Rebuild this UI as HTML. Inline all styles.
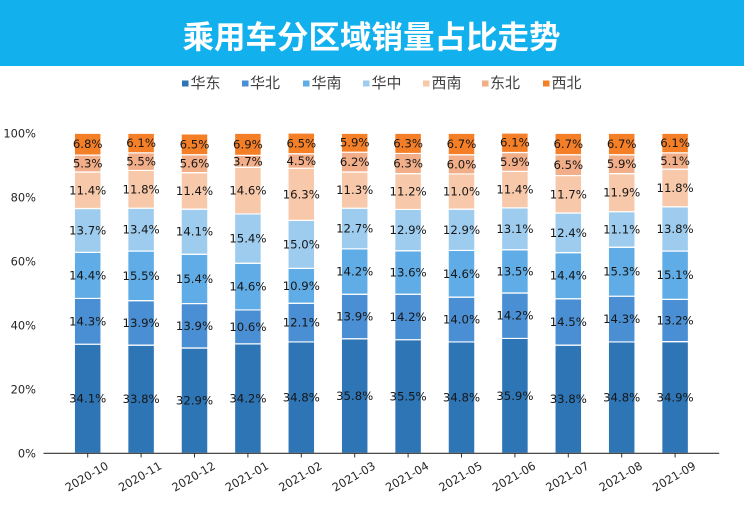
<!DOCTYPE html>
<html>
<head>
<meta charset="utf-8">
<style>
html,body{margin:0;padding:0;background:#fff;}
#wrap{position:relative;width:744px;height:528px;overflow:hidden;background:#fff;}
svg{display:block;}
.lbl{font-family:"DejaVu Sans","Liberation Sans",sans-serif;font-size:11.7px;fill:#161616;text-anchor:middle;dominant-baseline:central;}
.yt{font-family:"DejaVu Sans","Liberation Sans",sans-serif;font-size:11.4px;fill:#262626;text-anchor:end;dominant-baseline:central;}
.xt{font-family:"DejaVu Sans","Liberation Sans",sans-serif;font-size:11.4px;fill:#262626;text-anchor:middle;dominant-baseline:central;}
.lg{font-family:"Liberation Sans","Noto Sans CJK SC",sans-serif;font-size:15px;fill:#404040;dominant-baseline:central;}
.title{font-family:"Liberation Sans","Noto Sans CJK SC",sans-serif;font-size:31.5px;font-weight:bold;fill:#fff;text-anchor:middle;dominant-baseline:central;}
</style>
</head>
<body>
<div id="wrap">
<svg width="744" height="528" viewBox="0 0 744 528" xmlns="http://www.w3.org/2000/svg">
<rect x="0" y="0" width="744" height="66" fill="#12B0EC"/>
<text class="title" x="371.5" y="37">乘用车分区域销量占比走势</text>

<!-- legend -->
<rect x="182" y="80.5" width="6.5" height="6" fill="#2E75B6"/><text class="lg" x="190.5" y="83.5">华东</text>
<rect x="242" y="80.5" width="6.5" height="6" fill="#4A8FD3"/><text class="lg" x="250" y="83.5">华北</text>
<rect x="303" y="80.5" width="6.5" height="6" fill="#5FACE6"/><text class="lg" x="311.5" y="83.5">华南</text>
<rect x="363" y="80.5" width="6.5" height="6" fill="#9DCCEE"/><text class="lg" x="371.5" y="83.5">华中</text>
<rect x="423" y="80.5" width="6.5" height="6" fill="#F8C8AA"/><text class="lg" x="431.5" y="83.5">西南</text>
<rect x="482" y="80.5" width="6.5" height="6" fill="#F1AE88"/><text class="lg" x="490" y="83.5">东北</text>
<rect x="543" y="80.5" width="6.5" height="6" fill="#F47F26"/><text class="lg" x="551.5" y="83.5">西北</text>

<!-- y tick labels -->
<text class="yt" x="36" y="453.3">0%</text>
<text class="yt" x="36" y="389.3">20%</text>
<text class="yt" x="36" y="325.3">40%</text>
<text class="yt" x="36" y="261.3">60%</text>
<text class="yt" x="36" y="197.3">80%</text>
<text class="yt" x="36" y="133.3">100%</text>

<!-- bars -->
<g transform="translate(0 453.3) scale(1 -3.2)" stroke="#fff" stroke-width="1.2" vector-effect="non-scaling-stroke">
<g fill="#2E75B6">
<rect vector-effect="non-scaling-stroke" x="74.35" y="0" width="26.7" height="34.1"/>
<rect vector-effect="non-scaling-stroke" x="127.75" y="0" width="26.7" height="33.8"/>
<rect vector-effect="non-scaling-stroke" x="181.15" y="0" width="26.7" height="32.9"/>
<rect vector-effect="non-scaling-stroke" x="234.55" y="0" width="26.7" height="34.2"/>
<rect vector-effect="non-scaling-stroke" x="287.95" y="0" width="26.7" height="34.8"/>
<rect vector-effect="non-scaling-stroke" x="341.35" y="0" width="26.7" height="35.8"/>
<rect vector-effect="non-scaling-stroke" x="394.75" y="0" width="26.7" height="35.5"/>
<rect vector-effect="non-scaling-stroke" x="448.15" y="0" width="26.7" height="34.8"/>
<rect vector-effect="non-scaling-stroke" x="501.55" y="0" width="26.7" height="35.9"/>
<rect vector-effect="non-scaling-stroke" x="554.95" y="0" width="26.7" height="33.8"/>
<rect vector-effect="non-scaling-stroke" x="608.35" y="0" width="26.7" height="34.8"/>
<rect vector-effect="non-scaling-stroke" x="661.75" y="0" width="26.7" height="34.9"/>
</g>
<g fill="#4A8FD3">
<rect vector-effect="non-scaling-stroke" x="74.35" y="34.1" width="26.7" height="14.3"/>
<rect vector-effect="non-scaling-stroke" x="127.75" y="33.8" width="26.7" height="13.9"/>
<rect vector-effect="non-scaling-stroke" x="181.15" y="32.9" width="26.7" height="13.9"/>
<rect vector-effect="non-scaling-stroke" x="234.55" y="34.2" width="26.7" height="10.6"/>
<rect vector-effect="non-scaling-stroke" x="287.95" y="34.8" width="26.7" height="12.1"/>
<rect vector-effect="non-scaling-stroke" x="341.35" y="35.8" width="26.7" height="13.9"/>
<rect vector-effect="non-scaling-stroke" x="394.75" y="35.5" width="26.7" height="14.2"/>
<rect vector-effect="non-scaling-stroke" x="448.15" y="34.8" width="26.7" height="14.0"/>
<rect vector-effect="non-scaling-stroke" x="501.55" y="35.9" width="26.7" height="14.2"/>
<rect vector-effect="non-scaling-stroke" x="554.95" y="33.8" width="26.7" height="14.5"/>
<rect vector-effect="non-scaling-stroke" x="608.35" y="34.8" width="26.7" height="14.3"/>
<rect vector-effect="non-scaling-stroke" x="661.75" y="34.9" width="26.7" height="13.2"/>
</g>
<g fill="#5FACE6">
<rect vector-effect="non-scaling-stroke" x="74.35" y="48.4" width="26.7" height="14.4"/>
<rect vector-effect="non-scaling-stroke" x="127.75" y="47.7" width="26.7" height="15.5"/>
<rect vector-effect="non-scaling-stroke" x="181.15" y="46.8" width="26.7" height="15.4"/>
<rect vector-effect="non-scaling-stroke" x="234.55" y="44.8" width="26.7" height="14.6"/>
<rect vector-effect="non-scaling-stroke" x="287.95" y="46.9" width="26.7" height="10.9"/>
<rect vector-effect="non-scaling-stroke" x="341.35" y="49.7" width="26.7" height="14.2"/>
<rect vector-effect="non-scaling-stroke" x="394.75" y="49.7" width="26.7" height="13.6"/>
<rect vector-effect="non-scaling-stroke" x="448.15" y="48.8" width="26.7" height="14.6"/>
<rect vector-effect="non-scaling-stroke" x="501.55" y="50.1" width="26.7" height="13.5"/>
<rect vector-effect="non-scaling-stroke" x="554.95" y="48.3" width="26.7" height="14.4"/>
<rect vector-effect="non-scaling-stroke" x="608.35" y="49.1" width="26.7" height="15.3"/>
<rect vector-effect="non-scaling-stroke" x="661.75" y="48.1" width="26.7" height="15.1"/>
</g>
<g fill="#9DCCEE">
<rect vector-effect="non-scaling-stroke" x="74.35" y="62.8" width="26.7" height="13.7"/>
<rect vector-effect="non-scaling-stroke" x="127.75" y="63.2" width="26.7" height="13.4"/>
<rect vector-effect="non-scaling-stroke" x="181.15" y="62.2" width="26.7" height="14.1"/>
<rect vector-effect="non-scaling-stroke" x="234.55" y="59.4" width="26.7" height="15.4"/>
<rect vector-effect="non-scaling-stroke" x="287.95" y="57.8" width="26.7" height="15.0"/>
<rect vector-effect="non-scaling-stroke" x="341.35" y="63.9" width="26.7" height="12.7"/>
<rect vector-effect="non-scaling-stroke" x="394.75" y="63.3" width="26.7" height="12.9"/>
<rect vector-effect="non-scaling-stroke" x="448.15" y="63.4" width="26.7" height="12.9"/>
<rect vector-effect="non-scaling-stroke" x="501.55" y="63.6" width="26.7" height="13.1"/>
<rect vector-effect="non-scaling-stroke" x="554.95" y="62.7" width="26.7" height="12.4"/>
<rect vector-effect="non-scaling-stroke" x="608.35" y="64.4" width="26.7" height="11.1"/>
<rect vector-effect="non-scaling-stroke" x="661.75" y="63.2" width="26.7" height="13.8"/>
</g>
<g fill="#F8C8AA">
<rect vector-effect="non-scaling-stroke" x="74.35" y="76.5" width="26.7" height="11.4"/>
<rect vector-effect="non-scaling-stroke" x="127.75" y="76.6" width="26.7" height="11.8"/>
<rect vector-effect="non-scaling-stroke" x="181.15" y="76.3" width="26.7" height="11.4"/>
<rect vector-effect="non-scaling-stroke" x="234.55" y="74.8" width="26.7" height="14.6"/>
<rect vector-effect="non-scaling-stroke" x="287.95" y="72.8" width="26.7" height="16.3"/>
<rect vector-effect="non-scaling-stroke" x="341.35" y="76.6" width="26.7" height="11.3"/>
<rect vector-effect="non-scaling-stroke" x="394.75" y="76.2" width="26.7" height="11.2"/>
<rect vector-effect="non-scaling-stroke" x="448.15" y="76.3" width="26.7" height="11.0"/>
<rect vector-effect="non-scaling-stroke" x="501.55" y="76.7" width="26.7" height="11.4"/>
<rect vector-effect="non-scaling-stroke" x="554.95" y="75.1" width="26.7" height="11.7"/>
<rect vector-effect="non-scaling-stroke" x="608.35" y="75.5" width="26.7" height="11.9"/>
<rect vector-effect="non-scaling-stroke" x="661.75" y="77.0" width="26.7" height="11.8"/>
</g>
<g fill="#F1AE88">
<rect vector-effect="non-scaling-stroke" x="74.35" y="87.9" width="26.7" height="5.3"/>
<rect vector-effect="non-scaling-stroke" x="127.75" y="88.4" width="26.7" height="5.5"/>
<rect vector-effect="non-scaling-stroke" x="181.15" y="87.7" width="26.7" height="5.6"/>
<rect vector-effect="non-scaling-stroke" x="234.55" y="89.4" width="26.7" height="3.7"/>
<rect vector-effect="non-scaling-stroke" x="287.95" y="89.1" width="26.7" height="4.5"/>
<rect vector-effect="non-scaling-stroke" x="341.35" y="87.9" width="26.7" height="6.2"/>
<rect vector-effect="non-scaling-stroke" x="394.75" y="87.4" width="26.7" height="6.3"/>
<rect vector-effect="non-scaling-stroke" x="448.15" y="87.3" width="26.7" height="6.0"/>
<rect vector-effect="non-scaling-stroke" x="501.55" y="88.1" width="26.7" height="5.9"/>
<rect vector-effect="non-scaling-stroke" x="554.95" y="86.8" width="26.7" height="6.5"/>
<rect vector-effect="non-scaling-stroke" x="608.35" y="87.4" width="26.7" height="5.9"/>
<rect vector-effect="non-scaling-stroke" x="661.75" y="88.8" width="26.7" height="5.1"/>
</g>
<g fill="#F47F26">
<rect vector-effect="non-scaling-stroke" x="74.35" y="93.2" width="26.7" height="6.8"/>
<rect vector-effect="non-scaling-stroke" x="127.75" y="93.9" width="26.7" height="6.1"/>
<rect vector-effect="non-scaling-stroke" x="181.15" y="93.3" width="26.7" height="6.5"/>
<rect vector-effect="non-scaling-stroke" x="234.55" y="93.1" width="26.7" height="6.9"/>
<rect vector-effect="non-scaling-stroke" x="287.95" y="93.6" width="26.7" height="6.5"/>
<rect vector-effect="non-scaling-stroke" x="341.35" y="94.1" width="26.7" height="5.9"/>
<rect vector-effect="non-scaling-stroke" x="394.75" y="93.7" width="26.7" height="6.3"/>
<rect vector-effect="non-scaling-stroke" x="448.15" y="93.3" width="26.7" height="6.7"/>
<rect vector-effect="non-scaling-stroke" x="501.55" y="94.0" width="26.7" height="6.1"/>
<rect vector-effect="non-scaling-stroke" x="554.95" y="93.3" width="26.7" height="6.7"/>
<rect vector-effect="non-scaling-stroke" x="608.35" y="93.3" width="26.7" height="6.7"/>
<rect vector-effect="non-scaling-stroke" x="661.75" y="93.9" width="26.7" height="6.1"/>
</g>
</g>

<!-- axis -->
<line x1="43.5" y1="453.3" x2="719.2" y2="453.3" stroke="#333" stroke-width="1.1"/>
<g stroke="#333" stroke-width="1">
<line x1="87.7" y1="453.3" x2="87.7" y2="457.5"/>
<line x1="141.1" y1="453.3" x2="141.1" y2="457.5"/>
<line x1="194.5" y1="453.3" x2="194.5" y2="457.5"/>
<line x1="247.9" y1="453.3" x2="247.9" y2="457.5"/>
<line x1="301.3" y1="453.3" x2="301.3" y2="457.5"/>
<line x1="354.7" y1="453.3" x2="354.7" y2="457.5"/>
<line x1="408.1" y1="453.3" x2="408.1" y2="457.5"/>
<line x1="461.5" y1="453.3" x2="461.5" y2="457.5"/>
<line x1="514.9" y1="453.3" x2="514.9" y2="457.5"/>
<line x1="568.3" y1="453.3" x2="568.3" y2="457.5"/>
<line x1="621.7" y1="453.3" x2="621.7" y2="457.5"/>
<line x1="675.1" y1="453.3" x2="675.1" y2="457.5"/>
</g>

<!-- x tick labels -->
<text class="xt" x="86.7" y="476.5" transform="rotate(-30 86.7 476.5)">2020-10</text>
<text class="xt" x="140.1" y="476.5" transform="rotate(-30 140.1 476.5)">2020-11</text>
<text class="xt" x="193.5" y="476.5" transform="rotate(-30 193.5 476.5)">2020-12</text>
<text class="xt" x="246.9" y="476.5" transform="rotate(-30 246.9 476.5)">2021-01</text>
<text class="xt" x="300.3" y="476.5" transform="rotate(-30 300.3 476.5)">2021-02</text>
<text class="xt" x="353.7" y="476.5" transform="rotate(-30 353.7 476.5)">2021-03</text>
<text class="xt" x="407.1" y="476.5" transform="rotate(-30 407.1 476.5)">2021-04</text>
<text class="xt" x="460.5" y="476.5" transform="rotate(-30 460.5 476.5)">2021-05</text>
<text class="xt" x="513.9" y="476.5" transform="rotate(-30 513.9 476.5)">2021-06</text>
<text class="xt" x="567.3" y="476.5" transform="rotate(-30 567.3 476.5)">2021-07</text>
<text class="xt" x="620.7" y="476.5" transform="rotate(-30 620.7 476.5)">2021-08</text>
<text class="xt" x="674.1" y="476.5" transform="rotate(-30 674.1 476.5)">2021-09</text>

<!-- value labels -->
<g>
<text class="lbl" x="87.7" y="398.74">34.1%</text>
<text class="lbl" x="87.7" y="321.3">14.3%</text>
<text class="lbl" x="87.7" y="275.38">14.4%</text>
<text class="lbl" x="87.7" y="230.42">13.7%</text>
<text class="lbl" x="87.7" y="190.26">11.4%</text>
<text class="lbl" x="87.7" y="163.54">5.3%</text>
<text class="lbl" x="87.7" y="144.18">6.8%</text>

<text class="lbl" x="141.1" y="399.22">33.8%</text>
<text class="lbl" x="141.1" y="322.9">13.9%</text>
<text class="lbl" x="141.1" y="275.86">15.5%</text>
<text class="lbl" x="141.1" y="229.62">13.4%</text>
<text class="lbl" x="141.1" y="189.3">11.8%</text>
<text class="lbl" x="141.1" y="161.62">5.5%</text>
<text class="lbl" x="141.1" y="143.06">6.1%</text>

<text class="lbl" x="194.5" y="400.66">32.9%</text>
<text class="lbl" x="194.5" y="325.78">13.9%</text>
<text class="lbl" x="194.5" y="278.9">15.4%</text>
<text class="lbl" x="194.5" y="231.7">14.1%</text>
<text class="lbl" x="194.5" y="190.9">11.4%</text>
<text class="lbl" x="194.5" y="163.7">5.6%</text>
<text class="lbl" x="194.5" y="144.34">6.5%</text>

<text class="lbl" x="247.9" y="398.58">34.2%</text>
<text class="lbl" x="247.9" y="326.9">10.6%</text>
<text class="lbl" x="247.9" y="286.58">14.6%</text>
<text class="lbl" x="247.9" y="238.58">15.4%</text>
<text class="lbl" x="247.9" y="190.58">14.6%</text>
<text class="lbl" x="247.9" y="161.3">3.7%</text>
<text class="lbl" x="247.9" y="144.34">6.9%</text>

<text class="lbl" x="301.3" y="397.62">34.8%</text>
<text class="lbl" x="301.3" y="322.58">12.1%</text>
<text class="lbl" x="301.3" y="285.78">10.9%</text>
<text class="lbl" x="301.3" y="244.34">15.0%</text>
<text class="lbl" x="301.3" y="194.26">16.3%</text>
<text class="lbl" x="301.3" y="160.98">4.5%</text>
<text class="lbl" x="301.3" y="143.38">6.5%</text>

<text class="lbl" x="354.7" y="396.02">35.8%</text>
<text class="lbl" x="354.7" y="316.5">13.9%</text>
<text class="lbl" x="354.7" y="271.54">14.2%</text>
<text class="lbl" x="354.7" y="228.5">12.7%</text>
<text class="lbl" x="354.7" y="190.1">11.3%</text>
<text class="lbl" x="354.7" y="162.1">6.2%</text>
<text class="lbl" x="354.7" y="142.74">5.9%</text>

<text class="lbl" x="408.1" y="396.5">35.5%</text>
<text class="lbl" x="408.1" y="316.98">14.2%</text>
<text class="lbl" x="408.1" y="272.5">13.6%</text>
<text class="lbl" x="408.1" y="230.1">12.9%</text>
<text class="lbl" x="408.1" y="191.54">11.2%</text>
<text class="lbl" x="408.1" y="163.54">6.3%</text>
<text class="lbl" x="408.1" y="143.38">6.3%</text>

<text class="lbl" x="461.5" y="397.62">34.8%</text>
<text class="lbl" x="461.5" y="319.54">14.0%</text>
<text class="lbl" x="461.5" y="273.78">14.6%</text>
<text class="lbl" x="461.5" y="229.78">12.9%</text>
<text class="lbl" x="461.5" y="191.54">11.0%</text>
<text class="lbl" x="461.5" y="164.34">6.0%</text>
<text class="lbl" x="461.5" y="144.02">6.7%</text>

<text class="lbl" x="514.9" y="395.86">35.9%</text>
<text class="lbl" x="514.9" y="315.7">14.2%</text>
<text class="lbl" x="514.9" y="271.38">13.5%</text>
<text class="lbl" x="514.9" y="228.82">13.1%</text>
<text class="lbl" x="514.9" y="189.62">11.4%</text>
<text class="lbl" x="514.9" y="161.94">5.9%</text>
<text class="lbl" x="514.9" y="142.74">6.1%</text>

<text class="lbl" x="568.3" y="399.22">33.8%</text>
<text class="lbl" x="568.3" y="321.94">14.5%</text>
<text class="lbl" x="568.3" y="275.7">14.4%</text>
<text class="lbl" x="568.3" y="232.82">12.4%</text>
<text class="lbl" x="568.3" y="194.26">11.7%</text>
<text class="lbl" x="568.3" y="165.14">6.5%</text>
<text class="lbl" x="568.3" y="144.02">6.7%</text>

<text class="lbl" x="621.7" y="397.62">34.8%</text>
<text class="lbl" x="621.7" y="319.06">14.3%</text>
<text class="lbl" x="621.7" y="271.7">15.3%</text>
<text class="lbl" x="621.7" y="229.46">11.1%</text>
<text class="lbl" x="621.7" y="192.66">11.9%</text>
<text class="lbl" x="621.7" y="164.18">5.9%</text>
<text class="lbl" x="621.7" y="144.02">6.7%</text>

<text class="lbl" x="675.1" y="397.46">34.9%</text>
<text class="lbl" x="675.1" y="320.5">13.2%</text>
<text class="lbl" x="675.1" y="275.22">15.1%</text>
<text class="lbl" x="675.1" y="228.98">13.8%</text>
<text class="lbl" x="675.1" y="188.02">11.8%</text>
<text class="lbl" x="675.1" y="160.98">5.1%</text>
<text class="lbl" x="675.1" y="143.06">6.1%</text>
</g>
</svg>
</div>
</body>
</html>
